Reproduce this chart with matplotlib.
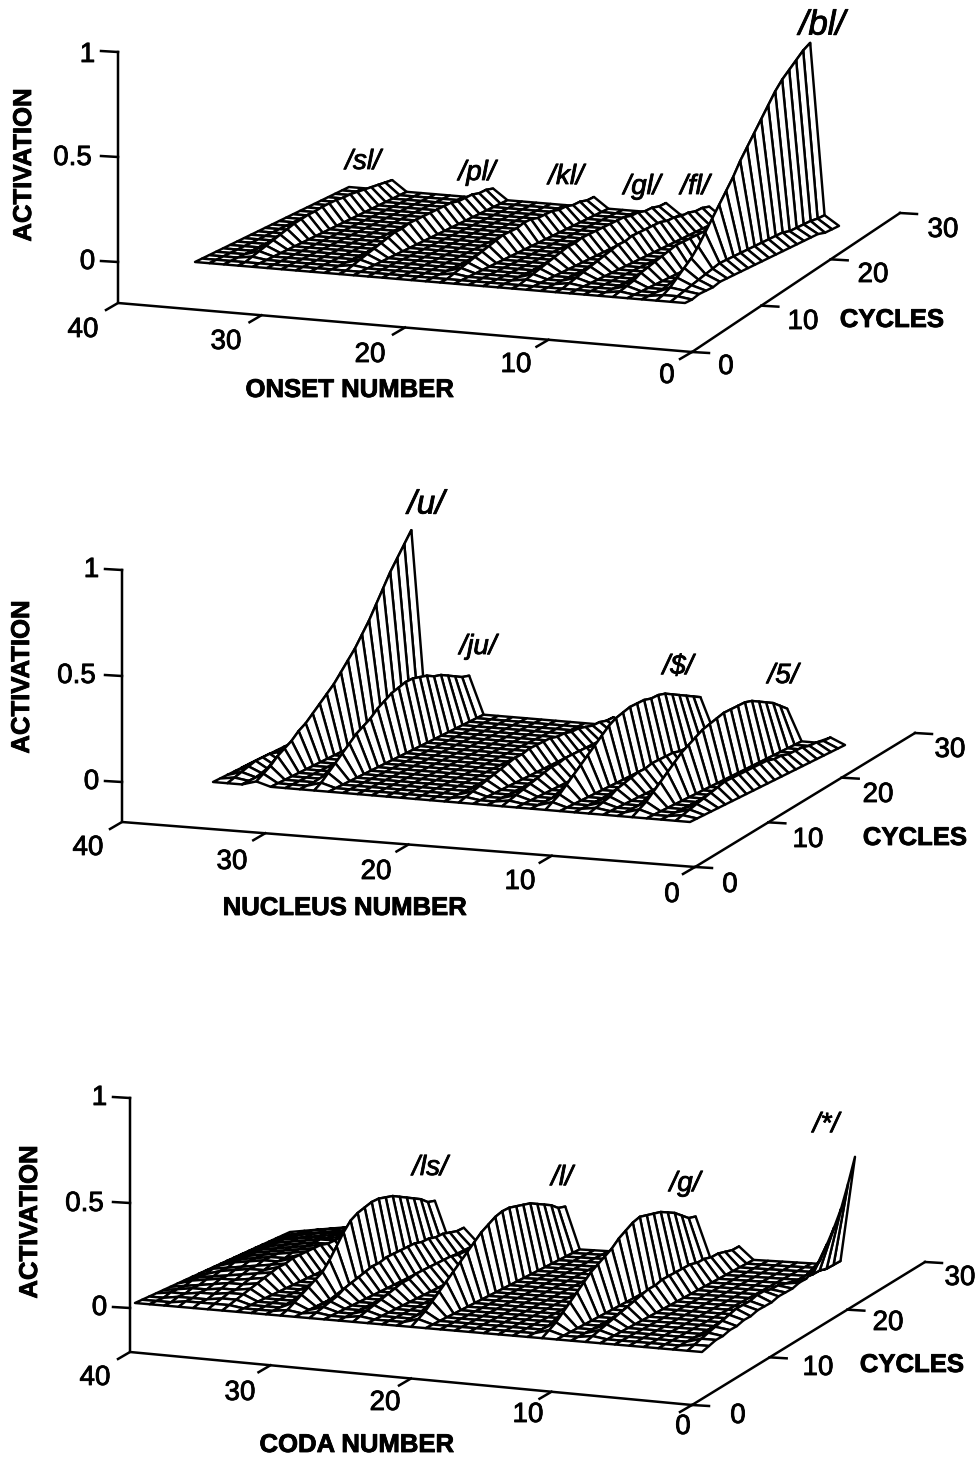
import numpy as np
import matplotlib
matplotlib.use('Agg')
import matplotlib.pyplot as plt
import matplotlib.patheffects as pe
from matplotlib.collections import PolyCollection

plt.rcParams['font.family'] = ['Liberation Sans', 'DejaVu Sans']

#tick values shared by the three plots
onset_ticks = [0, 10, 20, 30, 40]
cycle_ticks = [0, 10, 20, 30]
activation_ticks = [0, 0.5, 1]
activation_labels = ['0', '0.5', '1']

#activation over cycles 0-22, one list per unit that rises above the floor
#top plot, onset units
onset_rows = [0, 1, 2, 5, 9, 12, 17, 24, 31]
onset_curves = [
    [0, 0, .01, .01, .01, .02, .02, .02, .02, .02, .02, .02, .02, .02, .02, .02, .02, .02, .02, .02, .01, .01, .01],
    [0, .01, .02, .03, .04, .05, .06, .07, .07, .07, .07, .07, .07, .07, .07, .07, .07, .06, .06, .06, .06, .055, .055],
    [0, .01, .03, .06, .09, .12, .16, .21, .26, .31, .36, .41, .47, .52, .57, .62, .67, .72, .76, .79, .82, .85, .87],
    [0, .01, .02, .03, .05, .06, .07, .08, .09, .10, .10, .10, .10, .10, .09, .09, .08, .08, .07, .06, .05, .05, .04],
    [0, 0, .01, .02, .03, .04, .05, .06, .07, .08, .08, .09, .09, .09, .09, .09, .08, .08, .07, .07, .06, .06, .05],
    [0, 0, .01, .02, .03, .04, .05, .06, .07, .07, .08, .08, .08, .08, .08, .08, .08, .07, .07, .06, .06, .05, .05],
    [0, 0, .01, .02, .03, .04, .05, .06, .07, .08, .08, .08, .09, .09, .08, .08, .08, .07, .07, .06, .06, .05, .05],
    [0, 0, .01, .02, .03, .04, .05, .06, .07, .07, .08, .08, .08, .08, .08, .08, .08, .07, .07, .07, .06, .06, .05],
    [0, 0, .01, .02, .03, .04, .05, .06, .07, .075, .08, .08, .085, .085, .085, .08, .08, .075, .07, .065, .06, .055, .05],
]

#middle plot, nucleus units
nucleus_rows = [1, 4, 7, 10, 13, 16, 26, 30, 32]
nucleus_curves = [
    [0, .01, .02, .03, .04, .05, .06, .07, .07, .07, .07, .07, .07, .07, .06, .06, .05, .05, .05, .04, .04, .03, .03],
    [0, .02, .04, .07, .10, .13, .16, .19, .21, .23, .25, .26, .27, .28, .28, .28, .28, .27, .25, .23, .21, .18, .15],
    [0, .01, .02, .03, .05, .06, .07, .08, .08, .09, .09, .09, .09, .08, .08, .07, .06, .06, .05, .04, .04, .03, .03],
    [0, .02, .04, .07, .10, .13, .16, .19, .22, .25, .27, .28, .29, .29, .29, .28, .28, .27, .25, .23, .21, .19, .17],
    [0, .01, .02, .03, .04, .05, .06, .07, .07, .08, .08, .08, .08, .07, .07, .06, .06, .05, .05, .04, .04, .03, .03],
    [0, .01, .02, .03, .04, .05, .06, .07, .08, .08, .09, .09, .09, .09, .08, .08, .07, .07, .06, .05, .05, .04, .04],
    [0, .02, .05, .08, .11, .14, .17, .19, .21, .24, .26, .28, .29, .30, .30, .29, .28, .26, .25, .23, .21, .19, .18],
    [.02, .04, .06, .09, .11, .13, .16, .18, .21, .24, .27, .30, .34, .38, .42, .47, .52, .58, .64, .70, .75, .80, .85],
    [0, .01, .02, .03, .04, .04, .04, .03, .03, .02, .02, .01, .01, .01, 0, 0, 0, 0, 0, 0, 0, 0, 0],
]

#bottom plot, coda units
coda_rows = [0, 1, 8, 11, 20, 24, 27, 29, 33, 34, 35, 36, 37, 38]
coda_curves = [
    [0, .01, .02, .02, .03, .03, .04, .04, .05, .05, .05, .06, .06, .06, .07, .07, .09, .12, .18, .24, .31, .41, .52],
    [0, .01, .02, .03, .04, .05, .06, .07, .07, .07, .08, .08, .07, .07, .06, .05, .04, .04, .03, .03, .02, .02, .02],
    [0, .01, .02, .03, .04, .05, .06, .07, .08, .09, .09, .10, .10, .10, .10, .10, .09, .09, .08, .08, .07, .06, .06],
    [0, .02, .04, .07, .10, .13, .16, .19, .21, .23, .25, .28, .30, .32, .33, .32, .31, .30, .28, .26, .23, .20, .19],
    [0, .02, .04, .07, .10, .13, .16, .19, .22, .25, .28, .30, .32, .33, .33, .32, .31, .30, .28, .26, .24, .21, .20],
    [0, .01, .02, .03, .04, .05, .06, .07, .07, .08, .08, .08, .08, .08, .08, .07, .07, .07, .06, .06, .05, .05, .04],
    [0, .01, .02, .03, .04, .06, .07, .08, .09, .10, .10, .11, .11, .11, .11, .11, .10, .10, .09, .09, .08, .07, .07],
    [0, .01, .03, .05, .07, .09, .11, .15, .20, .25, .29, .31, .32, .33, .33, .32, .31, .29, .27, .25, .23, .20, .19],
    [0, .01, .02, .03, .04, .05, .06, .07, .08, .08, .09, .09, .09, .09, .09, .08, .08, .08, .07, .07, .06, .06, .05],
    [0, .01, .02, .03, .03, .04, .05, .06, .06, .07, .07, .07, .08, .08, .08, .08, .08, .07, .07, .06, .06, .05, .05],
    [0, .01, .01, .02, .03, .04, .04, .05, .06, .06, .07, .07, .07, .07, .07, .07, .07, .07, .06, .06, .05, .05, .04],
    [0, .01, .01, .02, .02, .03, .04, .04, .05, .05, .06, .06, .06, .06, .06, .06, .06, .06, .05, .05, .04, .04, .03],
    [0, 0, .01, .01, .02, .02, .03, .03, .04, .04, .05, .05, .05, .05, .05, .05, .05, .05, .04, .04, .03, .03, .02],
    [0, 0, 0, .01, .01, .01, .02, .02, .02, .03, .03, .03, .03, .03, .03, .03, .03, .03, .02, .02, .02, .01, .01],
]

fig = plt.figure(figsize=(9.78, 14.58), dpi=100)
ax = fig.add_axes([0, 0, 1, 1])
ax.set_xlim(0, 978)
ax.set_ylim(1458, 0)
ax.axis('off')


def draw_surface(rows, curves, n_rows, fr, fl, br, bl, scale):
    #build the activation grid, all units not listed stay on the floor
    n_cycles = len(curves[0])
    z = np.zeros((n_rows, n_cycles))
    for r, c in zip(rows, curves):
        z[r] = c
    u, v = np.meshgrid(np.arange(n_rows) / (n_rows - 1), np.arange(n_cycles) / (n_cycles - 1), indexing='ij')
    fr, fl, br, bl = [np.array(p, dtype=float) for p in (fr, fl, br, bl)]
    sx = (1-u)*(1-v)*fr[0] + u*(1-v)*fl[0] + (1-u)*v*br[0] + u*v*bl[0]
    sy = (1-u)*(1-v)*fr[1] + u*(1-v)*fl[1] + (1-u)*v*br[1] + u*v*bl[1] - z*scale
    #far cells first so the near ones hide them
    polys = []
    for c in range(n_cycles-2, -1, -1):
        for r in range(n_rows-2, -1, -1):
            polys.append([(sx[r, c], sy[r, c]), (sx[r+1, c], sy[r+1, c]),
                          (sx[r+1, c+1], sy[r+1, c+1]), (sx[r, c+1], sy[r, c+1])])
    ax.add_collection(PolyCollection(polys, facecolor='white', edgecolor='black', linewidth=1.75, zorder=2))


def draw_axes(origin, far_x, far_c, z_top, z_zero):
    lw = 1.8
    #activation axis
    ax.plot([far_x[0], far_x[0], origin[0], far_c[0]], [z_top, far_x[1], origin[1], far_c[1]], color='black', lw=lw, solid_joinstyle='miter')
    for t in activation_ticks:
        y = z_zero + (z_top - z_zero) * t
        ax.plot([far_x[0]-17, far_x[0]], [y-1, y], color='black', lw=lw)
    for t in onset_ticks:
        f = t / 40
        x = origin[0] + (far_x[0]-origin[0]) * f
        y = origin[1] + (far_x[1]-origin[1]) * f
        ax.plot([x-12, x], [y+7, y], color='black', lw=lw)
    for t in cycle_ticks:
        f = t / 30
        x = origin[0] + (far_c[0]-origin[0]) * f
        y = origin[1] + (far_c[1]-origin[1]) * f
        ax.plot([x, x+17], [y, y+1], color='black', lw=lw)


def put_text(x, y, s, size=20, **kw):
    t = ax.text(x, y, s, fontsize=size, ha='center', va='center', zorder=3, **kw)
    #the printed page has heavy type
    t.set_path_effects([pe.withStroke(linewidth=0.6, foreground='black')])


def draw_text(z_x, z_ys, act, x_pos, c_pos, cyc, title, title_xy, names):
    for s, y in zip(activation_labels, z_ys):
        put_text(z_x - len(s) * 7.5, y, s)
    put_text(act[0], act[1], 'ACTIVATION', size=18.5, fontweight='bold', rotation=90)
    for t, p in zip(onset_ticks, x_pos):
        put_text(p[0], p[1], str(t))
    for t, p in zip(cycle_ticks, c_pos):
        put_text(p[0], p[1], str(t))
    put_text(cyc[0], cyc[1], 'CYCLES', size=18.5, fontweight='bold')
    put_text(title_xy[0], title_xy[1], title, size=18.5, fontweight='bold')
    for s, x, y, size in names:
        put_text(x, y, s, size=size, style='italic')


#top plot
draw_surface(onset_rows, onset_curves, 35, (685, 303), (195, 262), (839, 228), (349, 187), 210)
draw_axes((692, 352), (118, 303), (900, 213), 52, 262)
draw_text(95, [262, 158, 55], (24, 165),
          [(667, 376), (516, 365), (370, 355), (226, 342), (83, 330)],
          [(726, 367), (803, 322), (873, 275), (943, 230)],
          (892, 320), 'ONSET NUMBER', (350, 390),
          [('/sl/', 363, 162, 20), ('/pl/', 477, 173, 20), ('/kl/', 566, 177, 20),
           ('/gl/', 642, 187, 20), ('/fl/', 695, 187, 20), ('/bl/', 822, 25, 25)])

#middle plot
draw_surface(nucleus_rows, nucleus_curves, 34, (690, 822), (213, 782), (845, 745), (368, 705), 210)
draw_axes((695, 867), (122, 822), (915, 733), 570, 782)
draw_text(99, [782, 676, 570], (22, 677),
          [(672, 895), (520, 882), (376, 872), (232, 862), (88, 848)],
          [(730, 885), (808, 840), (878, 795), (950, 750)],
          (915, 838), 'NUCLEUS NUMBER', (345, 908),
          [('/u/', 426, 505, 24), ('/ju/', 478, 647, 20), ('/$/', 678, 667, 20), ('/5/', 783, 676, 20)])

#bottom plot
draw_surface(coda_rows, coda_curves, 40, (702, 1352), (135, 1303), (855, 1266), (290, 1232), 210)
draw_axes((692, 1405), (130, 1352), (925, 1262), 1098, 1308)
draw_text(107, [1308, 1204, 1098], (30, 1222),
          [(683, 1427), (528, 1415), (385, 1403), (240, 1393), (95, 1378)],
          [(738, 1416), (818, 1368), (888, 1323), (960, 1278)],
          (912, 1365), 'CODA NUMBER', (357, 1445),
          [('/ls/', 430, 1168, 20), ('/l/', 562, 1178, 20), ('/g/', 685, 1184, 20), ('/*/', 826, 1125, 20)])

fig.savefig('out.png', dpi=100, facecolor='white')
